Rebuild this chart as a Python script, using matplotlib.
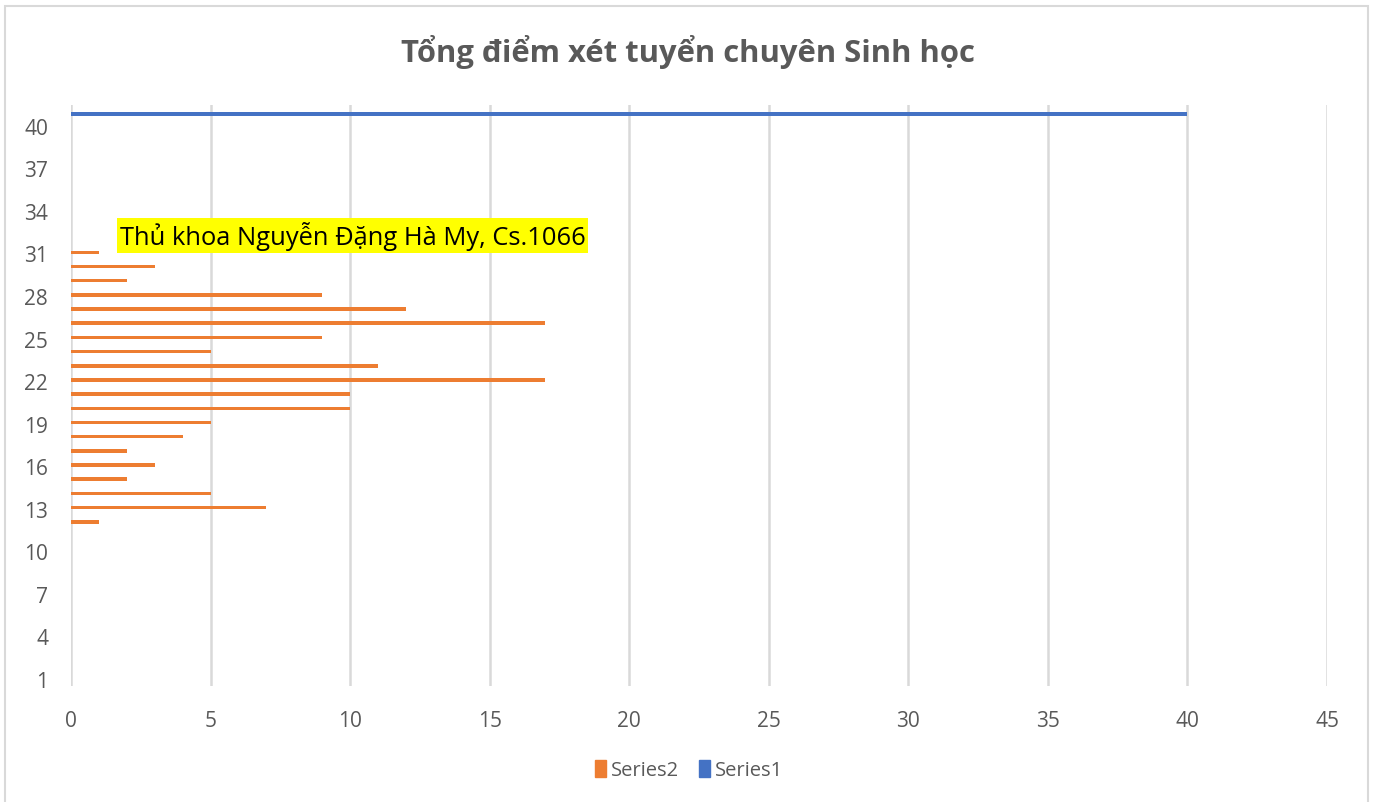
import numpy as np
import matplotlib
matplotlib.use('Agg')
import matplotlib.pyplot as plt
from matplotlib.patches import Rectangle, Patch

# categories 1..41 on the vertical axis
categories = list(range(1, 42))
# Series2: number of candidates per total score (orange)
series2 = [0, 0, 0, 0, 0, 0, 0, 0, 0, 0, 0,
           1, 7, 5, 2, 3, 2, 4, 5, 10, 10, 17, 11, 5, 9, 17, 12, 9, 2, 3, 1,
           0, 0, 0, 0, 0, 0, 0, 0, 0, 0]
# Series1: single bar at the top (blue)
series1 = [0] * 40 + [40]
yTickLabels = [1, 4, 7, 10, 13, 16, 19, 22, 25, 28, 31, 34, 37, 40]
xTicks = [0, 5, 10, 15, 20, 25, 30, 35, 40, 45]

titleText = 'Tổng điểm xét tuyển chuyên Sinh học'
noteText = 'Thủ khoa Nguyễn Đặng Hà My, Cs.1066'

plt.rcParams['font.family'] = ['Open Sans', 'DejaVu Sans']

orange = '#ED7D31'
blue = '#4472C4'
txtGrey = '#595959'
gridGrey = '#D9D9D9'

fig = plt.figure(figsize=(13.79, 8.03), dpi=100)

# chart border
fig.patches.append(Rectangle((5 / 1379, -0.05), 1363 / 1379, 1 - 7 / 803 + 0.05,
                             transform=fig.transFigure, fill=False,
                             edgecolor='#D9D9D9', lw=1.5))

ax = fig.add_axes([71 / 1379, 1 - 687 / 803, 1256 / 1379, (687 - 105.5) / 803])

y = np.array(categories)
barH = 0.25
ax.barh(y + 0.08, series2, height=barH, color=orange, label='Series2', zorder=3)
ax.barh(y - 0.2, series1, height=barH + 0.04, color=blue, label='Series1', zorder=3)

ax.set_xlim(0, 45)
ax.set_ylim(0.5, 41.5)
ax.set_xticks(xTicks)
ax.set_yticks(yTickLabels)
ax.set_yticklabels([str(v) for v in yTickLabels])
ax.tick_params(axis='both', length=0, labelsize=15, colors=txtGrey)
ax.tick_params(axis='x', pad=17)
ax.tick_params(axis='y', pad=16.5)
ax.xaxis.grid(True, color=gridGrey, lw=1.8, zorder=0)
for sp in ax.spines.values():
    sp.set_visible(False)

fig.text(688 / 1379, 1 - 52 / 803, titleText, ha='center', va='center',
         fontsize=22.3, fontweight='bold', color=txtGrey)

ax.text(1.75, 32.25, noteText, ha='left', va='center', fontsize=18.4, color='black',
        bbox=dict(facecolor='#FFFF00', edgecolor='none', pad=2), zorder=5)

handles = [Patch(color=orange, label='Series2'), Patch(color=blue, label='Series1')]
fig.legend(handles=handles, loc='center', bbox_to_anchor=(689 / 1379, 1 - 771 / 803),
           ncol=2, frameon=False, fontsize=14.5, labelcolor=txtGrey,
           handlelength=0.55, handleheight=0.9, handletextpad=0.25, columnspacing=1.0)

fig.savefig('out.png', dpi=100)
